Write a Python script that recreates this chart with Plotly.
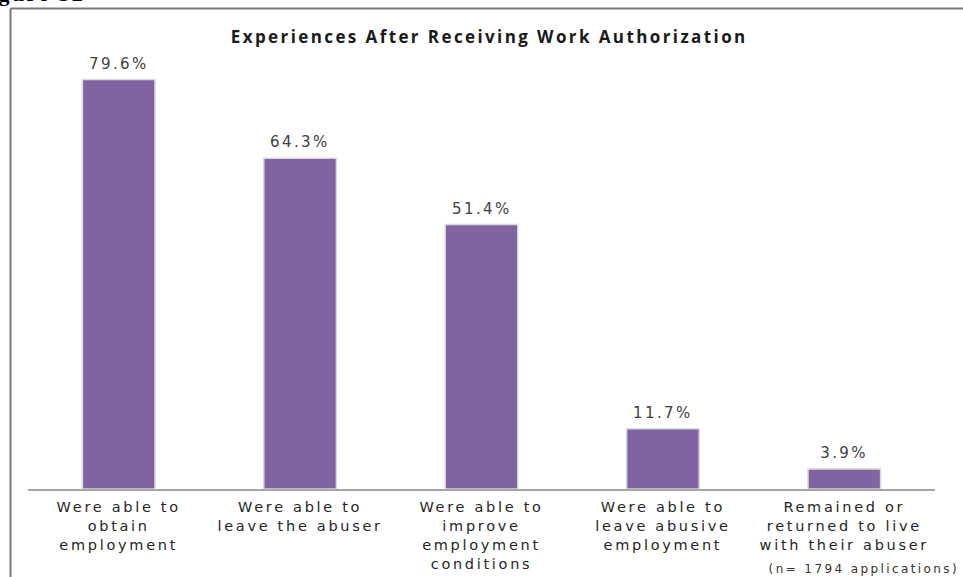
import plotly.graph_objects as go

categories = [
    "Were able to<br>obtain<br>employment",
    "Were able to<br>leave the abuser",
    "Were able to<br>improve<br>employment<br>conditions",
    "Were able to<br>leave abusive<br>employment",
    "Remained or<br>returned to live<br>with their abuser",
]
percentages = [79.6, 64.3, 51.4, 11.7, 3.9]
value_labels = [f"{v:.1f}%" for v in percentages]

W, H = 963, 577
ML, MR, MT, MB = 28, 28, 26, 88
plot_w = W - ML - MR
plot_h = H - MT - MB


def px_x(p):
    return (p - ML) / plot_w


def px_y(p):
    return (H - MB - p) / plot_h


fig = go.Figure()
fig.add_trace(go.Bar(
    x=categories,
    y=percentages,
    marker=dict(color="#8064A2", line=dict(color="#d9d9d9", width=1.5)),
    width=0.40,
    hoverinfo="x+y",
))

# value labels sitting above each bar
value_annots = [
    dict(x=c, y=v, xref="x", yref="y", text=t, showarrow=False,
         xanchor="center", yanchor="middle", yshift=16,
         font=dict(family="DejaVu Sans", size=15, color="#404040"))
    for c, v, t in zip(categories, percentages, value_labels)
]

fig.update_layout(
    width=W, height=H,
    margin=dict(l=ML, r=MR, t=MT, b=MB),
    paper_bgcolor="white",
    plot_bgcolor="white",
    showlegend=False,
    xaxis=dict(
        showline=True, linecolor="#a6a6a6", linewidth=1.5,
        showgrid=False, ticks="", automargin=False, ticklabelstandoff=4,
        tickfont=dict(family="DejaVu Sans", size=14.5, color="#262626"),
    ),
    yaxis=dict(range=[0, 90], visible=False, automargin=False),
    annotations=value_annots + [
        dict(text="<b>Experiences After Receiving Work Authorization</b>",
             xref="paper", yref="paper", x=px_x(489), y=px_y(36),
             xanchor="center", yanchor="middle", showarrow=False,
             font=dict(family="Open Sans", size=17, color="#1a1a1a")),
        dict(text="(n= 1794 applications)",
             xref="paper", yref="paper", x=px_x(864), y=px_y(569),
             xanchor="center", yanchor="middle", showarrow=False,
             font=dict(family="DejaVu Sans", size=12, color="#333333")),
        dict(text="<b>Figure 32</b>",
             xref="paper", yref="paper", x=px_x(76), y=px_y(8),
             xanchor="right", yanchor="bottom", showarrow=False,
             font=dict(family="Liberation Serif", size=22, color="#000000")),
    ],
    shapes=[
        dict(type="line", xref="paper", yref="paper",
             x0=px_x(10.5), x1=px_x(10.5), y0=px_y(8.5), y1=px_y(600),
             line=dict(color="#7a7a7a", width=2)),
        dict(type="line", xref="paper", yref="paper",
             x0=px_x(10.5), x1=px_x(990), y0=px_y(8.5), y1=px_y(8.5),
             line=dict(color="#7a7a7a", width=2)),
    ],
)

# Wide tracking on the chart lettering (centered texts keep their anchor).
tracking_js = """
var st = document.createElement('style');
st.textContent = '.xtick text {letter-spacing: 2.7px;} .annotation-text {letter-spacing: 2.4px;}';
document.head.appendChild(st);
"""

fig.write_html("out.html", post_script=tracking_js)
